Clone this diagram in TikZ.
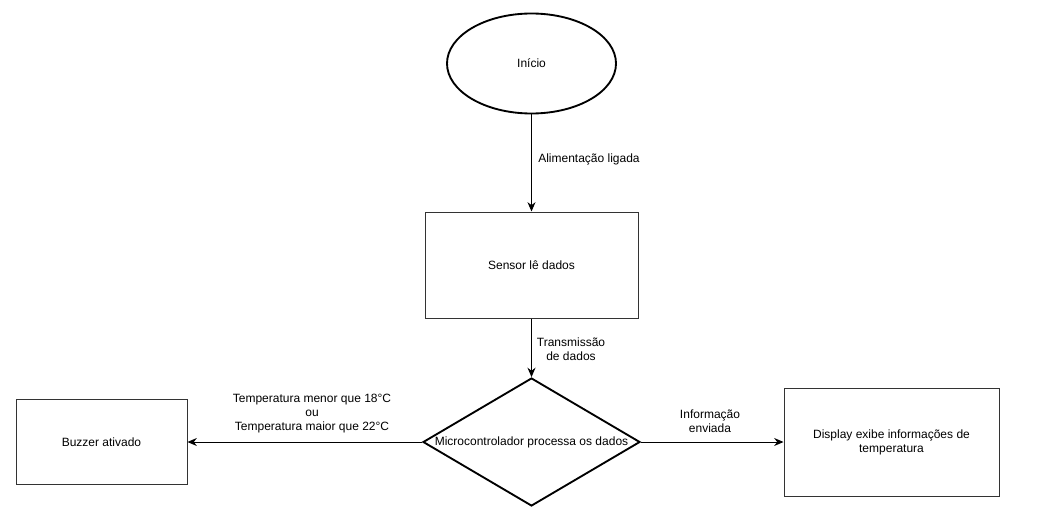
\documentclass[tikz,border=0pt]{standalone}
\usepackage{fontspec}
\setmainfont{Liberation Sans}
\usetikzlibrary{shapes.geometric,arrows.meta}
\begin{document}
\begin{tikzpicture}[x=0.75pt,y=-0.75pt,
  box/.style={draw, line width=0.75pt, inner sep=0pt, font=\fontsize{9}{10.5}\selectfont, align=center},
  thickbox/.style={box, line width=1.4pt},
  arr/.style={draw, line width=0.75pt, -{Stealth[length=7pt,width=6pt]}},
  lbl/.style={font=\fontsize{9}{10.5}\selectfont, align=center, inner sep=0pt}]
\useasboundingbox (0,0) rectangle (1042,528);
\node[thickbox, ellipse, minimum width=126.75pt, minimum height=75pt] (ini) at (531.5,63.5) {Início};
\node[box, draw=black!80, rectangle, minimum width=159.75pt, minimum height=79.5pt] (sen) at (531.5,265) {Sensor lê dados};
\node[thickbox, diamond, minimum width=162.75pt, minimum height=96pt] (dia) at (531.5,442) {};
\node[lbl] (diatxt) at (dia.center) {Microcontrolador processa os dados};
\node[box, draw=black!80, rectangle, minimum width=128.25pt, minimum height=63.75pt] (buz) at (101.5,442) {Buzzer ativado};
\node[box, draw=black!80, rectangle, minimum width=161.25pt, minimum height=81pt] (dis) at (891.5,442) {Display exibe informações de\\temperatura};
\draw[arr] (ini) -- (sen);
\draw[arr] (sen) -- (dia.north);
\draw[arr] (dia.west) -- (buz.east);
\draw[arr] (dia.east) -- (dis.west);
\node[lbl, anchor=west] (l1) at (538,159) {Alimentação ligada};
\node[lbl] (l2) at (571,349) {Transmissão\\de dados};
\node[lbl] (l3) at (312,414) {Temperatura menor que 18°C\\ou\\Temperatura maior que 22°C};
\node[lbl] (l4) at (710,421) {Informação\\enviada};
\end{tikzpicture}
\end{document}
